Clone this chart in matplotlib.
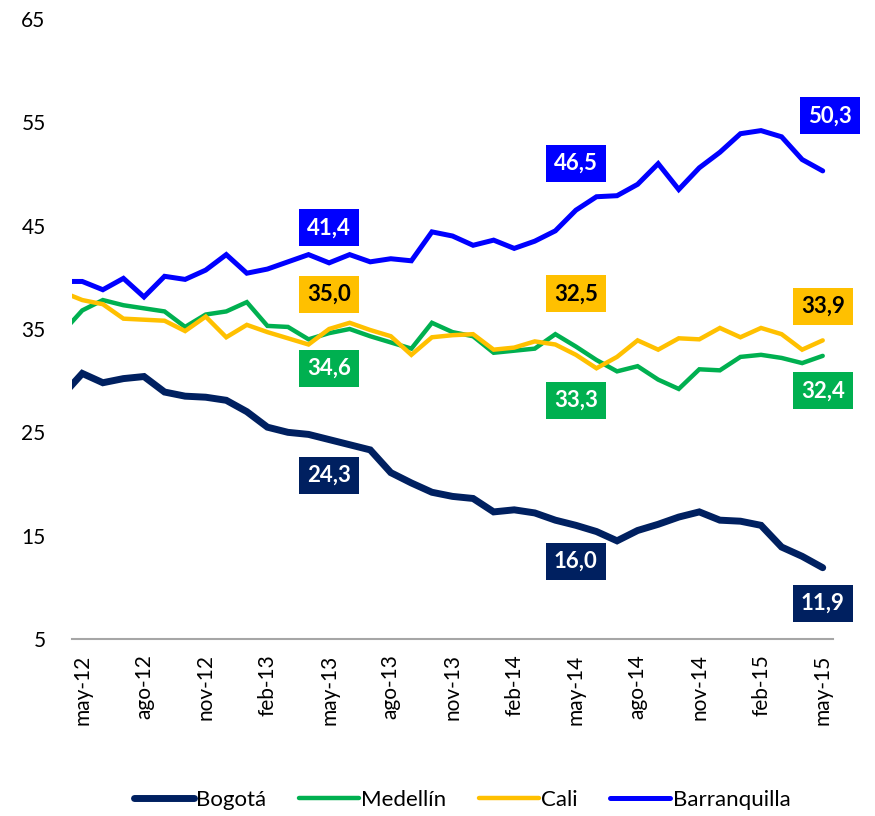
import matplotlib
matplotlib.use("Agg")
import matplotlib.pyplot as plt
import numpy as np

plt.rcParams['font.family'] = ['Lato', 'DejaVu Sans']

# monthly, abr-12 .. may-15 (first point sits just outside the plot area)
months = ["abr-12", "may-12", "jun-12", "jul-12", "ago-12", "sep-12", "oct-12", "nov-12",
          "dic-12", "ene-13", "feb-13", "mar-13", "abr-13", "may-13", "jun-13", "jul-13",
          "ago-13", "sep-13", "oct-13", "nov-13", "dic-13", "ene-14", "feb-14", "mar-14",
          "abr-14", "may-14", "jun-14", "jul-14", "ago-14", "sep-14", "oct-14", "nov-14",
          "dic-14", "ene-15", "feb-15", "mar-15", "abr-15", "may-15"]

bogota = [28.5, 30.7, 29.8, 30.2, 30.4, 28.9, 28.5, 28.4, 28.1, 27.0, 25.5, 25.0, 24.8,
          24.3, 23.8, 23.3, 21.1, 20.1, 19.2, 18.8, 18.6, 17.3, 17.5, 17.2, 16.5, 16.0,
          15.4, 14.5, 15.5, 16.1, 16.8, 17.3, 16.5, 16.4, 16.0, 13.9, 13.0, 11.9]
medellin = [34.6, 36.8, 37.8, 37.3, 37.0, 36.7, 35.2, 36.4, 36.7, 37.6, 35.3, 35.2, 34.0,
            34.6, 35.0, 34.3, 33.7, 33.1, 35.6, 34.7, 34.3, 32.7, 32.9, 33.1, 34.5, 33.3,
            32.0, 30.9, 31.4, 30.1, 29.2, 31.1, 31.0, 32.3, 32.5, 32.2, 31.7, 32.4]
cali = [38.6, 37.8, 37.4, 36.0, 35.9, 35.8, 34.8, 36.2, 34.2, 35.4, 34.7, 34.1, 33.5,
        35.0, 35.6, 34.9, 34.3, 32.5, 34.2, 34.4, 34.5, 33.0, 33.2, 33.8, 33.5, 32.5,
        31.2, 32.3, 33.9, 33.0, 34.1, 34.0, 35.1, 34.2, 35.1, 34.5, 33.0, 33.9]
barranquilla = [39.6, 39.6, 38.8, 39.9, 38.1, 40.1, 39.8, 40.7, 42.2, 40.4, 40.8, 41.5, 42.2,
                41.4, 42.2, 41.5, 41.8, 41.6, 44.4, 44.0, 43.1, 43.6, 42.8, 43.5, 44.5, 46.5,
                47.8, 47.9, 49.0, 51.0, 48.5, 50.6, 52.1, 53.9, 54.2, 53.6, 51.4, 50.3]

series = ["Bogotá", "Medellín", "Cali", "Barranquilla"]
colors = ["#002060", "#00B050", "#FFC000", "#0000FF"]
widths = [5.0, 3.2, 3.2, 3.6]
tick_labels = ["may-12", "ago-12", "nov-12", "feb-13", "may-13", "ago-13", "nov-13",
               "feb-14", "may-14", "ago-14", "nov-14", "feb-15", "may-15"]

x = np.arange(len(months)) - 1

fig = plt.figure(figsize=(8.75, 8.16), dpi=100)
ax = fig.add_axes([72 / 875, 1 - 639 / 816, 761 / 875, 620 / 816])

data = [bogota, medellin, cali, barranquilla]
for vals, name, c, lw in zip(data, series, colors, widths):
    ax.plot(x, vals, color=c, lw=lw, label=name, solid_joinstyle='miter',
            solid_capstyle='round')

ax.set_xlim(-0.5, 36.5)
ax.set_ylim(5, 65)
ax.set_yticks(np.arange(5, 66, 10))
ax.set_xticks(np.arange(0, 37, 3))
ax.set_xticklabels(tick_labels, rotation=90, fontsize=15)
ax.tick_params(axis='y', length=0, pad=19, labelsize=15)
ax.tick_params(axis='x', length=0, pad=11)
for s in ['top', 'right', 'left']:
    ax.spines[s].set_visible(False)
ax.spines['bottom'].set_color('#A6A6A6')
ax.spines['bottom'].set_linewidth(1.5)

# value labels: (series index, month index, dx px, dy px)
labels = [(3, 12, 0, 35), (3, 24, 0, 47), (3, 36, 7, 55),
          (2, 12, 0, 35), (2, 24, 0, 61), (2, 36, 0, 34),
          (1, 12, 0, -35), (1, 24, 0, -54), (1, 36, 0, -35),
          (0, 12, 0, -36), (0, 24, 0, -36), (0, 36, 0, -36)]
for si, mi, dx, dy in labels:
    v = data[si][mi + 1]
    txt = f"{v:.1f}".replace(".", ",")
    tc = "black" if si == 2 else "white"
    ax.annotate(txt, (mi, v), xytext=(dx, dy), textcoords='offset pixels',
                ha='center', va='center', fontsize=16, fontweight='bold', color=tc,
                bbox=dict(boxstyle='square,pad=0.36', fc=colors[si], ec='none'),
                annotation_clip=False)

fig.legend(loc='center', bbox_to_anchor=(462 / 875, 1 - 800 / 816), ncol=4, frameon=False,
           fontsize=16, handlelength=2.7, columnspacing=1.45, handletextpad=0.12)

fig.savefig("out.png", dpi=100)
